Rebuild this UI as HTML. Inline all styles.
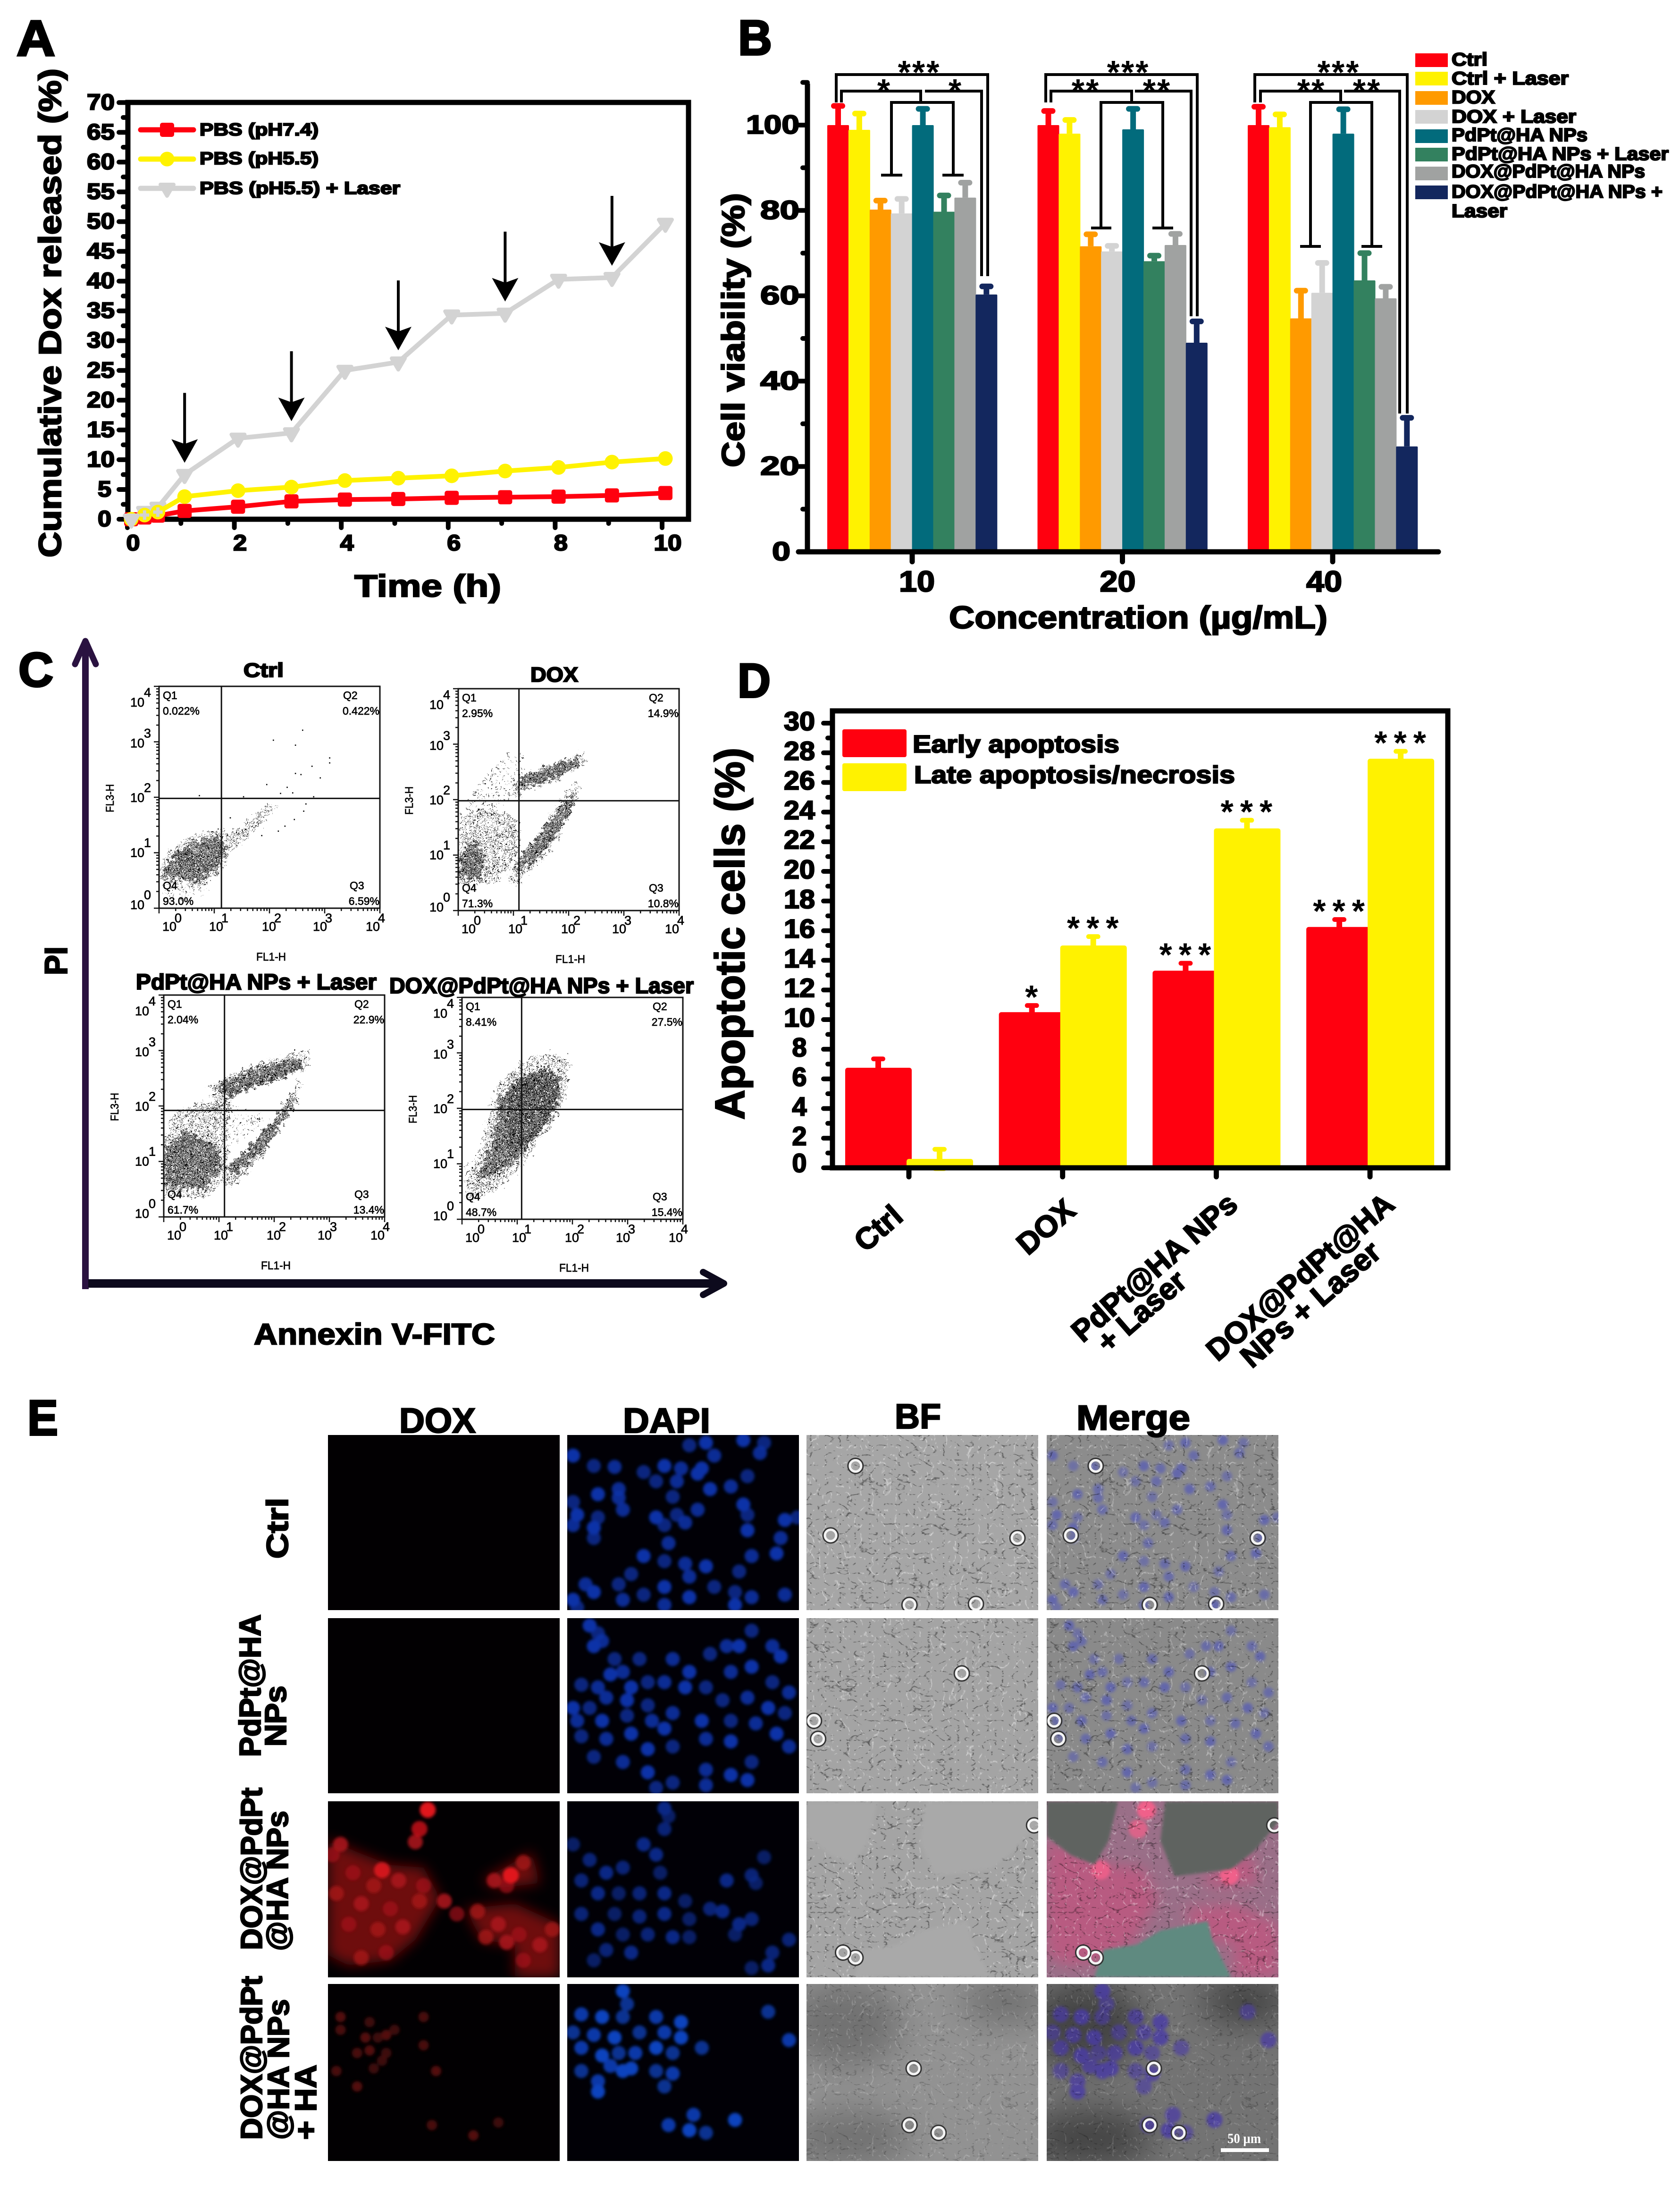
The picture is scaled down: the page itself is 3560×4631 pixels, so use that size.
<!DOCTYPE html>
<html lang="en">
<head>
<meta charset="utf-8">
<title>Dox release, cell viability, apoptosis and fluorescence imaging figure</title>
<style>
html,body{margin:0;padding:0;background:#fff;}
svg{display:block;}
text{font-family:"Liberation Sans",sans-serif;fill:#000;}
.b{font-weight:bold;stroke:#000;stroke-width:2.5px;}
.h{font-weight:bold;stroke:#000;stroke-width:4px;}
.f{font-weight:normal;stroke:#000;stroke-width:.7px;}
</style>
</head>
<body>
<svg id="figure" xmlns="http://www.w3.org/2000/svg" width="3560" height="4631" viewBox="0 0 3560 4631">
<defs>
  <pattern id="eventsDense" width="24" height="24" patternUnits="userSpaceOnUse" patternTransform="scale(.72)">
    <path fill="#000" d="M1 2h3v3h-3zM6 1h3v3h-3zM11 3h3v3h-3zM16 0h3v3h-3zM21 2h3v3h-3zM3 6h3v3h-3zM8 5h3v3h-3zM13 7h3v3h-3zM18 5h3v3h-3zM22 7h2v3h-2zM0 10h3v3h-3zM5 9h3v3h-3zM10 11h3v3h-3zM15 9h3v3h-3zM20 11h3v3h-3zM2 14h3v3h-3zM7 13h3v3h-3zM12 15h3v3h-3zM17 13h3v3h-3zM22 15h2v3h-2zM4 18h3v3h-3zM9 17h3v3h-3zM14 19h3v3h-3zM19 17h3v3h-3zM1 20h3v3h-3zM6 21h3v3h-3zM11 21h3v3h-3zM16 21h3v3h-3zM21 19h3v3h-3z"/>
  </pattern>
  <pattern id="eventsMedium" width="24" height="24" patternUnits="userSpaceOnUse">
    <path fill="#000" d="M1 2h2.5v2.5h-2.5zM11 3h2.5v2.5h-2.5zM21 2h2.5v2.5h-2.5zM8 5h2.5v2.5h-2.5zM18 5h2.5v2.5h-2.5zM0 10h2.5v2.5h-2.5zM10 11h2.5v2.5h-2.5zM20 11h2.5v2.5h-2.5zM7 13h2.5v2.5h-2.5zM17 13h2.5v2.5h-2.5zM4 18h2.5v2.5h-2.5zM14 19h2.5v2.5h-2.5zM1 20h2.5v2.5h-2.5zM11 21h2.5v2.5h-2.5zM21 19h2.5v2.5h-2.5z"/>
  </pattern>
  <pattern id="eventsSparse" width="30" height="30" patternUnits="userSpaceOnUse">
    <path fill="#000" d="M3 4h2.5v2.5h-2.5zM17 2h2.5v2.5h-2.5zM25 11h2.5v2.5h-2.5zM10 13h2.5v2.5h-2.5zM2 22h2.5v2.5h-2.5zM19 24h2.5v2.5h-2.5z"/>
  </pattern>
  <filter id="scatterEvents" x="-10%" y="-10%" width="120%" height="120%">
    <feTurbulence type="fractalNoise" baseFrequency="0.11" numOctaves="3" seed="11" result="n"/>
    <feDisplacementMap in="SourceGraphic" in2="n" scale="30" xChannelSelector="R" yChannelSelector="G"/>
  </filter>
  <filter id="blurSmall" x="-5%" y="-5%" width="110%" height="110%"><feGaussianBlur stdDeviation="3.2"/></filter>
  <filter id="blurLarge" x="-15%" y="-15%" width="130%" height="130%"><feGaussianBlur stdDeviation="14"/></filter>
  <filter id="blurHuge" x="-40%" y="-40%" width="180%" height="180%"><feGaussianBlur stdDeviation="34"/></filter>
  <filter id="darkVeins" x="0" y="0" width="100%" height="100%" color-interpolation-filters="sRGB">
    <feTurbulence type="turbulence" baseFrequency="0.032 0.048" numOctaves="3" seed="7"/>
    <feColorMatrix values="0 0 0 0 0  0 0 0 0 0  0 0 0 0 0  -6 0 0 0 .8"/>
  </filter>
  <filter id="lightVeins" x="0" y="0" width="100%" height="100%" color-interpolation-filters="sRGB">
    <feTurbulence type="turbulence" baseFrequency="0.04 0.03" numOctaves="3" seed="23"/>
    <feColorMatrix values="0 0 0 0 1  0 0 0 0 1  0 0 0 0 1  -6 0 0 0 .8"/>
  </filter>
</defs>

<g id="panelA"></g>
<g id="panelB"></g>
<g id="panelC"></g>
<g id="panelD"></g>
<g id="panelE"></g>

<!-- Panel letters -->
<text class="h" x="35" y="118" font-size="107" textLength="82" lengthAdjust="spacingAndGlyphs">A</text>
<text class="h" x="1564" y="116" font-size="105" textLength="72" lengthAdjust="spacingAndGlyphs">B</text>
<text class="h" x="39" y="1454" font-size="102" textLength="74" lengthAdjust="spacingAndGlyphs">C</text>
<text class="h" x="1563" y="1477" font-size="102" textLength="70" lengthAdjust="spacingAndGlyphs">D</text>
<text class="h" x="58" y="3040" font-size="106" textLength="65" lengthAdjust="spacingAndGlyphs">E</text>

<!-- Panel A text -->
<text class="b" transform="translate(129,1181) rotate(-90)" font-size="67" textLength="1036" lengthAdjust="spacingAndGlyphs">Cumulative Dox released (%)</text>
<text class="b" x="751" y="1264" font-size="66" textLength="311" lengthAdjust="spacingAndGlyphs">Time (h)</text>
<g>
  <text class="b" x="423" y="287" font-size="37" textLength="252" lengthAdjust="spacingAndGlyphs">PBS (pH7.4)</text>
  <text class="b" x="423" y="348" font-size="37" textLength="252" lengthAdjust="spacingAndGlyphs">PBS (pH5.5)</text>
  <text class="b" x="423" y="411" font-size="37" textLength="425" lengthAdjust="spacingAndGlyphs">PBS (pH5.5) + Laser</text>
</g>

<!-- Panel B text -->
<text class="b" transform="translate(1577,990) rotate(-90)" font-size="68" textLength="581" lengthAdjust="spacingAndGlyphs">Cell viability (%)</text>
<text class="b" x="2011" y="1331" font-size="67" textLength="802" lengthAdjust="spacingAndGlyphs">Concentration (µg/mL)</text>
<g>
  <text class="b" x="3076" y="139" font-size="39" textLength="76" lengthAdjust="spacingAndGlyphs">Ctrl</text>
  <text class="b" x="3076" y="179" font-size="39" textLength="248" lengthAdjust="spacingAndGlyphs">Ctrl + Laser</text>
  <text class="b" x="3076" y="219" font-size="39" textLength="92" lengthAdjust="spacingAndGlyphs">DOX</text>
  <text class="b" x="3076" y="260" font-size="39" textLength="264" lengthAdjust="spacingAndGlyphs">DOX + Laser</text>
  <text class="b" x="3076" y="299" font-size="39" textLength="288" lengthAdjust="spacingAndGlyphs">PdPt@HA NPs</text>
  <text class="b" x="3076" y="339" font-size="39" textLength="460" lengthAdjust="spacingAndGlyphs">PdPt@HA NPs + Laser</text>
  <text class="b" x="3076" y="376" font-size="39" textLength="410" lengthAdjust="spacingAndGlyphs">DOX@PdPt@HA NPs</text>
  <text class="b" x="3076" y="419" font-size="39" textLength="447" lengthAdjust="spacingAndGlyphs">DOX@PdPt@HA NPs +</text>
  <text class="b" x="3076" y="460" font-size="39" textLength="118" lengthAdjust="spacingAndGlyphs">Laser</text>
</g>

<!-- Panel B significance brackets -->
<g fill="none" stroke="#000" stroke-width="6">
  <path d="M1772 217V158H2093V585"/>
  <path d="M1783 217V193H1951V217"/>
  <path d="M1960 193H2080V585"/>
  <path d="M1867 371H1912M1889 371V217H2020V371M1997 371H2042"/>
  <path d="M2216 217V158H2537V670"/>
  <path d="M2227 217V193H2398V217"/>
  <path d="M2405 193H2524V670"/>
  <path d="M2312 483H2355M2333 483V217H2464V483M2442 483H2486"/>
  <path d="M2659 217V158H2982V876"/>
  <path d="M2671 217V193H2841V217"/>
  <path d="M2848 193H2966V876"/>
  <path d="M2755 522H2799M2777 522V217H2907V522M2885 522H2929"/>
</g>
<g text-anchor="middle" font-size="70" font-weight="bold" letter-spacing="3">
  <text x="1948" y="177">***</text>
  <text x="1874" y="216">*</text>
  <text x="2025" y="216">*</text>
  <text x="2391" y="177">***</text>
  <text x="2301" y="216">**</text>
  <text x="2452" y="216">**</text>
  <text x="2837" y="177">***</text>
  <text x="2779" y="216">**</text>
  <text x="2897" y="216">**</text>
</g>

<!-- Panel C text and big axes -->
<g>
  <path d="M181 2731V1362" stroke="#2a1240" stroke-width="14" fill="none"/>
  <path d="M159 1407L181 1358L203 1407" stroke="#2a1240" stroke-width="13" fill="none" stroke-linecap="round" stroke-linejoin="round"/>
</g>
<g>
  <path d="M187 2719H1525" stroke="#0d0a1d" stroke-width="18" fill="none"/>
  <path d="M1490 2695L1534 2719L1490 2743" stroke="#0d0a1d" stroke-width="14" fill="none" stroke-linecap="round" stroke-linejoin="round"/>
</g>
<text class="b" transform="translate(142,2066) rotate(-90)" font-size="68" textLength="61" lengthAdjust="spacingAndGlyphs">PI</text>
<text class="b" x="538" y="2848" font-size="63" textLength="511" lengthAdjust="spacingAndGlyphs">Annexin V-FITC</text>
<text class="b" x="516" y="1434" font-size="42" textLength="85" lengthAdjust="spacingAndGlyphs">Ctrl</text>
<text class="b" x="1124" y="1444" font-size="44" textLength="101" lengthAdjust="spacingAndGlyphs">DOX</text>
<text class="b" x="288" y="2096" font-size="46" textLength="510" lengthAdjust="spacingAndGlyphs">PdPt@HA NPs + Laser</text>
<text class="b" x="825" y="2104" font-size="46" textLength="645" lengthAdjust="spacingAndGlyphs">DOX@PdPt@HA NPs + Laser</text>

<!-- Panel D text -->
<text class="b" transform="translate(1577,2372) rotate(-90)" font-size="88" textLength="788" lengthAdjust="spacingAndGlyphs">Apoptotic cells (%)</text>
<g>
  <text class="b" x="1934" y="1594" font-size="52" textLength="438" lengthAdjust="spacingAndGlyphs">Early apoptosis</text>
  <text class="b" x="1937" y="1659" font-size="52" textLength="680" lengthAdjust="spacingAndGlyphs">Late apoptosis/necrosis</text>
</g>
<g font-size="64" text-anchor="middle">
  <text class="b" transform="translate(1861,2602) rotate(-41)" y="22">Ctrl</text>
  <text class="b" transform="translate(2216,2599) rotate(-41)" y="22">DOX</text>
  <text class="b" transform="translate(2446,2685) rotate(-41)" y="22">PdPt@HA NPs</text>
  <text class="b" transform="translate(2419,2778) rotate(-41)" y="22">+ Laser</text>
  <text class="b" transform="translate(2755,2705) rotate(-41)" y="22">DOX@PdPt@HA</text>
  <text class="b" transform="translate(2777,2763) rotate(-41)" y="22">NPs + Laser</text>
</g>

<!-- Panel E text -->
<text class="b" x="846" y="3035" font-size="74" textLength="162" lengthAdjust="spacingAndGlyphs">DOX</text>
<text class="b" x="1320" y="3035" font-size="74" textLength="185" lengthAdjust="spacingAndGlyphs">DAPI</text>
<text class="b" x="1896" y="3026" font-size="74" textLength="98" lengthAdjust="spacingAndGlyphs">BF</text>
<text class="b" x="2281" y="3029" font-size="74" textLength="241" lengthAdjust="spacingAndGlyphs">Merge</text>
<g font-size="64">
  <text class="b" transform="translate(610,3302) rotate(-90)" textLength="129" lengthAdjust="spacingAndGlyphs">Ctrl</text>
  <text class="b" transform="translate(552,3722) rotate(-90)" textLength="302" lengthAdjust="spacingAndGlyphs">PdPt@HA</text>
  <text class="b" transform="translate(606,3700) rotate(-90)" textLength="129" lengthAdjust="spacingAndGlyphs">NPs</text>
  <text class="b" transform="translate(555,4131) rotate(-90)" textLength="344" lengthAdjust="spacingAndGlyphs">DOX@PdPt</text>
  <text class="b" transform="translate(610,4133) rotate(-90)" textLength="297" lengthAdjust="spacingAndGlyphs">@HA NPs</text>
  <text class="b" transform="translate(555,4533) rotate(-90)" textLength="347" lengthAdjust="spacingAndGlyphs">DOX@PdPt</text>
  <text class="b" transform="translate(612,4533) rotate(-90)" textLength="298" lengthAdjust="spacingAndGlyphs">@HA NPs</text>
  <text class="b" transform="translate(670,4533) rotate(-90)" textLength="159" lengthAdjust="spacingAndGlyphs">+ HA</text>
</g>

<script>
/* ---------- Panel A data ---------- */
const timeHours = [0, 0.25, 0.5, 1, 2, 3, 4, 5, 6, 7, 8, 9, 10];
const releasePh74 = [0, 0.3, 0.6, 1.4, 2.1, 3, 3.3, 3.4, 3.6, 3.7, 3.8, 4, 4.4];
const releasePh55 = [0, 0.7, 1.2, 3.8, 4.8, 5.4, 6.5, 6.9, 7.3, 8.1, 8.7, 9.6, 10.2];
const releaseLaser = [0, 1.3, 2, 7.5, 13.6, 14.5, 25, 26.4, 34.3, 34.6, 40.3, 40.6, 49.7];
const laserHours = [1, 3, 5, 7, 9];
const releaseYTicks = [0, 5, 10, 15, 20, 25, 30, 35, 40, 45, 50, 55, 60, 65, 70];
const releaseXTicks = [0, 2, 4, 6, 8, 10];

/* ---------- Panel B data ---------- */
const concentrations = ['10', '20', '40'];
const treatmentColors = ['#ff000f', '#fff200', '#ff9a00', '#d3d3d3', '#026b7c', '#33815f', '#a0a2a1', '#13275e'];
const viability10 = [100, 98.9, 80.2, 79.3, 100, 79.7, 83, 60.3];
const viability20 = [100, 98, 71.6, 70.4, 99, 68.1, 71.9, 49];
const viability40 = [100, 99.5, 54.7, 60.7, 98, 63.6, 59.4, 24.7];
const viabilityErr10 = [4.5, 3.8, 2.1, 3.4, 3.8, 3.8, 3.5, 1.9];
const viabilityErr20 = [3.3, 3.2, 2.8, 1.3, 4.8, 1.3, 2.6, 5];
const viabilityErr40 = [4.3, 3, 6.5, 7, 5.7, 6.4, 2.7, 6.7];
const viabilityTicks = [0, 20, 40, 60, 80, 100];

/* ---------- Panel C data (log10 decades) ---------- */
const flowPercents = [
  ['0.022%', '0.422%', '6.59%', '93.0%'],
  ['2.95%', '14.9%', '10.8%', '71.3%'],
  ['2.04%', '22.9%', '13.4%', '61.7%'],
  ['8.41%', '27.5%', '15.4%', '48.7%']
];
const gateFl1 = [1.13, 1.1, 1.1, 1.08];
const gateFl3 = [1.98, 1.98, 1.92, 1.98];
const ctrlClouds = [
  ['eventsSparse', [[.03,.6],[.7,.6],[.9,.3],[.5,.15],[.1,.25]]],
  ['eventsDense', [[.06,.61],[.27,.99],[.65,1.2],[1.07,1.29],[1.23,1.08],[1.07,.74],[.73,.48],[.31,.55]]],
  ['eventsMedium', [[1.1,1.2],[1.5,1.5],[2,1.9],[2.15,1.85],[1.7,1.35],[1.25,1]]]
];
const ctrlOutliers = [[2.6,3.21],[2.07,3.03],[2.47,2.94],[3.09,2.71],[3.09,2.62],[2.77,2.56],[2.47,2.43],[2.57,2.41],[2.92,2.35],[1.95,2.23],[2.32,2.18],[2.2,2.07],[2.42,2.08],[1.53,2.01],[.73,2.03],[2.8,2.01],[2.66,1.88],[2.62,1.75],[2.45,1.6],[2.28,1.48],[2.16,1.39],[1.86,1.31],[1.57,1.42],[1.29,1.63]];
const doxClouds = [
  ['eventsSparse', [[.26,2.22],[.93,2.81],[1.18,2.81],[1.18,2.05],[.59,1.8],[.09,1.63]]],
  ['eventsMedium', [[.03,1.03],[.03,1.71],[.59,1.88],[1.1,1.63],[1.1,.95],[.59,.44],[.43,.57]]],
  ['eventsDense', [[.03,.57],[.03,1.03],[.34,1.29],[.47,.95],[.43,.57]]],
  ['eventsDense', [[1,.8],[1.4,1.3],[1.9,1.95],[2.1,2.1],[2.05,1.8],[1.6,1.1],[1.15,.7]]],
  ['eventsDense', [[1.1,2.39],[1.77,2.64],[2.18,2.77],[2.18,2.6],[1.77,2.39],[1.13,2.18]]]
];
const pdptClouds = [
  ['eventsSparse', [[.65,2.07],[1,2.5],[1.3,2],[1.9,1.75],[1.2,1.3],[.9,1.6]]],
  ['eventsMedium', [[.02,1.23],[.14,1.82],[.65,2.07],[1.23,2.07],[1.15,1.4],[.98,1.23],[.39,1.56]]],
  ['eventsMedium', [[.3,.6],[.7,.4],[1.1,.6],[1.2,1.3],[.5,1.3]]],
  ['eventsDense', [[.02,.55],[.02,1.23],[.39,1.56],[.98,1.23],[1.06,.89],[.73,.51]]],
  ['eventsDense', [[1.1,.9],[1.5,1.2],[2,1.75],[2.35,2.2],[2.3,1.9],[1.8,1.2],[1.3,.75]]],
  ['eventsDense', [[.98,2.41],[1.74,2.71],[2.49,2.88],[2.49,2.66],[2.07,2.49],[1.4,2.28],[1.15,2.07]]]
];
const doxPdptClouds = [
  ['eventsSparse', [[.03,.3],[.4,.6],[.3,1],[.03,1]]],
  ['eventsMedium', [[.03,.58],[.36,1.35],[.53,2.09],[.95,2.6],[1.45,2.75],[1.87,2.75],[1.83,2.09],[1.53,1.6],[1.11,1.09],[.7,.75],[.28,.54]]],
  ['eventsDense', [[.25,.7],[.55,1.4],[.7,2.2],[1.05,2.55],[1.5,2.7],[1.8,2.6],[1.75,2.1],[1.45,1.65],[1.1,1.2],[.7,.85]]],
  ['eventsDense', [[.78,1.77],[.95,2.45],[1.53,2.75],[1.79,2.45],[1.62,1.85],[1.11,1.26],[.86,1.18]]]
];

/* ---------- Panel D data ---------- */
const apoptosisGroups = ['Ctrl', 'DOX', 'PdPt@HA NPs + Laser', 'DOX@PdPt@HA NPs + Laser'];
const earlyApoptosis = [6.75, 10.5, 13.3, 16.25];
const lateApoptosis = [0.6, 15, 22.9, 27.6];
const earlyErr = [0.6, 0.45, 0.5, 0.5];
const lateErr = [0.65, 0.6, 0.55, 0.5];
const earlySignificance = ['', '*', '***', '***'];
const lateSignificance = ['', '***', '***', '***'];
const apoptosisTicks = [0, 2, 4, 6, 8, 10, 12, 14, 16, 18, 20, 22, 24, 26, 28, 30];

/* ---------- Panel E image detail (traced cell centres) ---------- */
const dapiCellsRow1 = [[850,125],[830,130],[860,150],[895,120],[920,125],[915,145],[690,150],[715,170],[740,172],[800,170],[775,182],[820,175],[845,175],[790,200],[815,200],[840,185],[900,190],[880,210],[855,215],[810,230],[745,215],[720,225],[690,240],[745,232],[695,265],[720,270],[750,255],[790,270],[815,265],[840,255],[895,245],[900,265],[690,285],[715,290],[800,285],[825,280],[945,275],[960,270],[940,310],[900,295],[715,310],[805,320],[775,345],[800,355],[825,360],[850,365],[890,375],[905,345],[935,340],[760,380],[830,385],[800,405],[860,405],[705,400],[715,415],[745,400],[750,430],[690,430],[775,420],[800,440],[830,425],[885,415],[905,425],[885,440],[695,445],[945,420]];
const dapiCellsRow2 = [[710,480],[720,495],[725,510],[715,520],[740,545],[750,570],[735,575],[770,545],[810,545],[830,570],[855,535],[875,520],[890,520],[905,490],[930,520],[940,540],[700,595],[720,600],[760,600],[780,590],[800,590],[825,600],[850,600],[880,570],[905,560],[930,590],[950,610],[690,640],[710,640],[730,620],[755,625],[780,635],[810,650],[845,665],[870,625],[900,620],[925,640],[945,650],[695,665],[725,665],[755,655],[785,665],[800,680],[880,665],[910,670],[935,690],[700,695],[730,700],[760,690],[715,735],[750,745],[780,720],[810,715],[850,700],[880,705],[905,745],[950,715],[780,765],[810,785],[850,760],[880,770],[790,795],[850,790],[900,780]];
const dapiCellsRow3 = [[800,835],[805,850],[800,875],[775,905],[690,905],[710,935],[790,925],[795,960],[750,950],[730,960],[920,930],[905,965],[875,975],[910,980],[700,975],[720,1000],[745,1000],[770,1000],[800,1000],[825,1015],[855,1030],[870,1035],[885,1080],[905,1050],[890,1060],[740,1040],[770,1045],[800,1040],[830,1050],[700,1040],[720,1070],[750,1080],[780,1080],[810,1085],[830,1085],[730,1110],[760,1115],[715,1130],[930,1115],[925,1140],[905,1145],[950,1090]];
const dapiCellsRow4 = [[750,1190],[755,1215],[700,1235],[725,1240],[750,1240],[790,1240],[820,1250],[690,1270],[715,1275],[740,1280],[770,1270],[800,1270],[820,1280],[845,1300],[700,1300],[725,1315],[745,1310],[765,1310],[790,1300],[810,1310],[735,1335],[760,1340],[700,1345],[720,1365],[750,1345],[790,1345],[810,1350],[720,1385],[800,1375],[835,1430],[830,1460],[850,1465],[805,1450],[885,1440],[925,1230],[950,1285]];
const doxBrightRow3 = [[515,838],[505,875],[460,955],[615,965]];
const doxCellsRow3 = [[410,905],[425,960],[450,985],[480,975],[510,985],[405,1000],[435,1020],[470,1030],[505,1015],[535,1015],[420,1060],[455,1070],[485,1065],[550,1040],[575,1035],[600,1060],[625,1080],[585,1085],[610,1095],[465,1115],[435,1125],[650,1100],[630,1130],[665,1070],[595,975],[610,985],[630,940],[500,900],[400,925]];
const doxRegionsRow3 = [
  [[395,895],[430,920],[470,945],[510,950],[530,1010],[500,1090],[470,1130],[420,1140],[395,1120]],
  [[580,975],[640,920],[650,980],[600,990]],
  [[560,1030],[620,1020],[674,1060],[674,1163],[620,1163],[620,1100],[580,1090]]
];
const doxCellsRow4 = [[410,1240],[445,1250],[410,1265],[465,1275],[475,1265],[510,1240],[440,1280],[455,1280],[430,1310],[445,1305],[465,1310],[510,1295],[525,1345],[460,1325],[405,1345],[430,1375],[600,1445],[520,1450],[570,1470],[450,1340]];
const bfRingsRow1 = [[1030,170],[1000,305],[1225,310],[1095,440],[1175,438]];
const bfRingsRow2 = [[1158,573],[980,665],[985,700]];
const bfRingsRow3 = [[1030,1125],[1015,1115],[1245,868]];
const bfRingsRow4 = [[1100,1340],[1130,1465],[1095,1450]];

/* ---------- Helpers ---------- */
const NS = 'http://www.w3.org/2000/svg';
function make(tag, parent, attrs) {
  const node = document.createElementNS(NS, tag);
  for (const key in attrs) node.setAttribute(key, attrs[key]);
  parent.appendChild(node);
  return node;
}
function label(parent, str, x, y, size, cls, anchor, len) {
  const node = make('text', parent, {x: x, y: y, 'font-size': size, 'text-anchor': anchor || 'start'});
  if (cls) node.setAttribute('class', cls);
  if (len) { node.setAttribute('textLength', len); node.setAttribute('lengthAdjust', 'spacingAndGlyphs'); }
  node.textContent = str;
  
  return node;
}
function tickLine(parent, x1, y1, x2, y2, w, name) {
  const line = make('line', parent, {x1: x1, y1: y1, x2: x2, y2: y2, stroke: '#000', 'stroke-width': w, 'stroke-linecap': 'round'});
  
  
  return line;
}

/* ---------- Panel A ---------- */
(function () {
  const g = document.getElementById('panelA');
  const xData = t => 278 + 113.2 * t;
  const xTick = t => 270 + 113.3 * t;
  const y = v => 1100 - 12.61 * v;

  for (let v = 2.5; v < 70; v += 5) tickLine(g, 271, y(v), 261, y(v), 10, 'y-minor-tick');
  releaseYTicks.forEach(v => {
    tickLine(g, 271, y(v), 252, y(v), 10, 'y-major-tick');
    const tl = label(g, String(v), v < 10 ? 236 : 243, y(v) + 15, 47, 'b', 'end', v < 10 ? 29 : 59);
    
  });
  for (let t = 1; t < 10; t += 2) tickLine(g, xTick(t), 1100, xTick(t), 1109, 10, 'x-minor-tick');
  releaseXTicks.forEach(t => {
    tickLine(g, xTick(t), 1100, xTick(t), 1118, 10, 'x-major-tick');
    const tl = label(g, String(t), xTick(t) + 12, 1166, 47, 'b', 'middle', t < 10 ? 29 : 59);
    
  });
  const frame = make('rect', g, {x: 271, y: 217, width: 1188, height: 883, fill: 'none', stroke: '#000', 'stroke-width': 11});
  
  

  function drawLine(values, color) {
    const line = make('polyline', g, {
      points: values.map((v, i) => xData(timeHours[i]) + ',' + y(v)).join(' '),
      fill: 'none', stroke: color, 'stroke-width': 10, 'stroke-linejoin': 'round', 'stroke-linecap': 'round'
    });
    
    
  }
  function square(x, yy, color) {
    const m = make('rect', g, {x: x - 15, y: yy - 15, width: 30, height: 30, rx: 5, fill: color});
    
    
  }
  function dot(x, yy, color) {
    const m = make('circle', g, {cx: x, cy: yy, r: 15.5, fill: color});
    
    
  }
  function tri(x, yy, color) {
    const m = make('path', g, {d: `M${x - 14} ${yy - 8}H${x + 14}L${x} ${yy + 16}Z`, fill: color, stroke: color, 'stroke-width': 8, 'stroke-linejoin': 'round'});
    
    
  }
  drawLine(releasePh74, '#ff000f');
  releasePh74.forEach((v, i) => square(xData(timeHours[i]), y(v), '#ff000f'));
  drawLine(releaseLaser, '#d3d3d3');
  releaseLaser.forEach((v, i) => { if (i > 2) tri(xData(timeHours[i]), y(v), '#d3d3d3'); });
  tri(xData(timeHours[1]), y(releaseLaser[1]), '#d3d3d3');
  tri(xData(timeHours[2]), y(releaseLaser[2]), '#d3d3d3');
  drawLine(releasePh55, '#fff200');
  releasePh55.forEach((v, i) => dot(xData(timeHours[i]), y(v), '#fff200'));
  [1, 2].forEach(i => {
    const cross = make('path', g, {d: `M${xData(timeHours[i]) - 10} ${y(releasePh55[i])}h20M${xData(timeHours[i])} ${y(releasePh55[i]) - 10}v20`, stroke: '#d3d3d3', 'stroke-width': 7, fill: 'none'});
    
    
  });
  tri(xData(0), y(0), '#d3d3d3');

  laserHours.forEach(t => {
    const v = releaseLaser[timeHours.indexOf(t)];
    const tip = y(v) - 25;
    const x = xData(t);
    const arrow = make('path', g, {d: `M${x - 3} ${tip - 148}h6V${tip - 41}L${x + 28} ${tip - 50}L${x} ${tip}L${x - 28} ${tip - 50}L${x - 3} ${tip - 41}Z`, fill: '#000'});
    
    
  });

  const leg = make('line', g, {x1: 298, y1: 275, x2: 410, y2: 275, stroke: '#ff000f', 'stroke-width': 11, 'stroke-linecap': 'round'});
  
  
  square(354, 275, '#ff000f');
  const leg2 = make('line', g, {x1: 298, y1: 337, x2: 410, y2: 337, stroke: '#fff200', 'stroke-width': 11, 'stroke-linecap': 'round'});
  
  
  dot(354, 337, '#fff200');
  const leg3 = make('line', g, {x1: 298, y1: 399, x2: 410, y2: 399, stroke: '#d3d3d3', 'stroke-width': 11, 'stroke-linecap': 'round'});
  
  
  tri(354, 399, '#d3d3d3');
})();

/* ---------- Panel B ---------- */
(function () {
  const g = document.getElementById('panelB');
  const y = v => 1169 - 9.04 * v;
  const barX = (group, i) => 1753 + 445.5 * group + 44.9 * i;
  const valueSets = [viability10, viability20, viability40];
  const errSets = [viabilityErr10, viabilityErr20, viabilityErr40];
  const labelShift = [10, -10, -18];

  concentrations.forEach((c, group) => {
    valueSets[group].forEach((v, i) => {
      const x = barX(group, i);
      const color = treatmentColors[i];
      const stem = make('path', g, {
        d: `M${x + 23} ${y(v)}V${y(v + errSets[group][i])}`,
        stroke: color, 'stroke-width': 12, fill: 'none'
      });
      
      
      const cap = make('rect', g, {x: x + 8, y: y(v + errSets[group][i]) - 6, width: 30, height: 12, rx: 6, fill: color});
      
      
      const bar = make('rect', g, {x: x, y: y(v), width: 46, height: y(0) - y(v), rx: 2, fill: color});
      
      
    });
    const tickX = barX(group, 0) + 180;
    tickLine(g, tickX, 1169, tickX, 1190, 11, 'x-tick');
    const tl = label(g, c, tickX + labelShift[group], 1253, 62, 'b', 'middle', 76);
    
  });

  const yAxis = make('line', g, {x1: 1711, y1: 177, x2: 1711, y2: 1169, stroke: '#000', 'stroke-width': 11});
  
  
  const xAxis = make('line', g, {x1: 1692, y1: 1169, x2: 3048, y2: 1169, stroke: '#000', 'stroke-width': 11, 'stroke-linecap': 'round'});
  
  
  for (let v = 10; v <= 110; v += 20) tickLine(g, 1711, y(v), 1701, y(v), 10, 'y-minor-tick');
  viabilityTicks.forEach(v => {
    if (v > 0) tickLine(g, 1711, y(v), 1693, y(v), 10, 'y-major-tick');
    const size = v === 100 ? 113 : (v === 0 ? 39 : 83);
    const tl = label(g, String(v), v === 0 ? 1675 : 1694, y(v) + 18, 56, 'b', 'end', size);
    
  });

  treatmentColors.forEach((color, i) => {
    const swatch = make('rect', g, {x: 2999, y: [113, 152, 193, 233, 274, 313, 353, 393][i], width: 69, height: 29, fill: color});
    
    
  });
})();

/* ---------- Panel C ---------- */
(function () {
  const g = document.getElementById('panelC');
  const panels = [
    {x: 337, y: 1454, clouds: ctrlClouds, outliers: ctrlOutliers, q2: 390},
    {x: 971, y: 1459, clouds: doxClouds, outliers: [], q2: 404},
    {x: 347, y: 2108, clouds: pdptClouds, outliers: [], q2: 404},
    {x: 979, y: 2113, clouds: doxPdptClouds, outliers: [], q2: 404}
  ];
  const W = 468, H = 470;
  const xOffsets = [7, -11, -16, -25, -30];
  const yOffsets = [2, 9, 10, 12, 43];
  const minorLogs = [.301, .477, .602, .699, .778, .845, .903, .954];

  panels.forEach((p, idx) => {
    const box = make('g', g, {});
    
    
    const x = d => p.x + d * W / 4;
    const y = d => p.y + H - d * H / 4;

    const cid = 'flowClip' + idx;
    const cp = make('clipPath', document.querySelector('defs'), {id: cid});
    make('rect', cp, {x: p.x, y: p.y, width: W, height: H});
    const clipGroup = make('g', box, {'clip-path': 'url(#' + cid + ')'});
    const cloudGroup = make('g', clipGroup, {filter: 'url(#scatterEvents)'});
    
    
    p.clouds.forEach(c => {
      if (c[0] === 'eventsDense') {
        const cx = c[1].reduce((s, q) => s + q[0], 0) / c[1].length;
        const cy = c[1].reduce((s, q) => s + q[1], 0) / c[1].length;
        const halo = make('polygon', cloudGroup, {points: c[1].map(q => x(cx + (q[0] - cx) * 1.2) + ',' + y(cy + (q[1] - cy) * 1.35)).join(' '), fill: 'url(#eventsMedium)'});
        
        
      }
      const cloud = make('polygon', cloudGroup, {points: c[1].map(q => x(q[0]) + ',' + y(q[1])).join(' '), fill: 'url(#' + c[0] + ')'});
      
      
    });
    p.outliers.forEach(q => {
      const pt = make('rect', box, {x: x(q[0]) - 1.2, y: y(q[1]) - 1.2, width: 2.6, height: 2.6, fill: '#000'});
      
      
    });

    const frame = make('rect', box, {x: p.x, y: p.y, width: W, height: H, fill: 'none', stroke: '#111', 'stroke-width': 3});
    
    
    const gateV = make('line', box, {x1: x(gateFl1[idx]), y1: p.y, x2: x(gateFl1[idx]), y2: p.y + H, stroke: '#111', 'stroke-width': 3});
    
    
    const gateH = make('line', box, {x1: p.x, y1: y(gateFl3[idx]), x2: p.x + W, y2: y(gateFl3[idx]), stroke: '#111', 'stroke-width': 3});
    
    

    let tickPath = '';
    for (let k = 0; k <= 4; k++) {
      tickPath += `M${x(k)} ${p.y + H}v11M${p.x} ${y(k)}h-11`;
      if (k < 4) minorLogs.forEach(m => { tickPath += `M${x(k + m)} ${p.y + H}v6M${p.x} ${y(k + m)}h-6`; });
      const bx = x(k) + xOffsets[k];
      const a = label(box, '10', bx, p.y + H + 48, 27, 'f');
      
      const b = label(box, String(k), bx + 26, p.y + H + 30, 27, 'f');
      
      const by = y(k) + yOffsets[k];
      const c = label(box, '10', p.x - 61, by, 27, 'f');
      
      const e = label(box, String(k), p.x - 32, by - 21, 27, 'f');
      
    }
    const ticks = make('path', box, {d: tickPath, stroke: '#111', 'stroke-width': 2.5, fill: 'none'});
    
    

    const q = flowPercents[idx];
    const bottom = p.y + H;
    [['Q1', p.x + 8, p.y + 27], ['Q2', p.x + p.q2, p.y + 27], ['Q3', p.x + 404, bottom - 40], ['Q4', p.x + 8, bottom - 40]].forEach(t => {
      const ql = label(box, t[0], t[1], t[2], 23, 'f');
      
    });
    const p1 = label(box, q[0], p.x + 8, p.y + 60, 23, 'f');
    
    const p2 = label(box, q[1], p.x + 467, p.y + 60, 23, 'f', 'end');
    
    const p3 = label(box, q[2], p.x + 467, bottom - 7, 23, 'f', 'end');
    
    const p4 = label(box, q[3], p.x + 8, bottom - 7, 23, 'f');
    

    const xt = label(box, 'FL1-H', p.x + 206, bottom + 111, 24, 'f', 'start', 63);
    
    const yt = label(box, 'FL3-H', 0, 0, 24, 'f', 'start', 60);
    yt.setAttribute('transform', `translate(${p.x - 96},${p.y + 267}) rotate(-90)`);
    
  });
})();

/* ---------- Panel D ---------- */
(function () {
  const g = document.getElementById('panelD');
  const y = v => 2474 - 31.4 * v;
  const xTick = i => 1926 + 325.7 * i;

  function series(values, errs, color, dx, stars) {
    values.forEach((v, i) => {
      const x = xTick(i) + dx;
      const center = x + 70;
      const stem = make('path', g, {d: `M${center} ${y(v - errs[i])}V${y(v + errs[i])}`, stroke: color, 'stroke-width': 12, fill: 'none'});
      
      
      const capTop = make('rect', g, {x: center - 15, y: y(v + errs[i]) - 5, width: 30, height: 10, rx: 5, fill: color});
      
      
      const capLow = make('rect', g, {x: center - 15, y: y(v - errs[i]) - 5, width: 30, height: 10, rx: 5, fill: color});
      
      
      const bar = make('rect', g, {x: x, y: y(v), width: 141, height: y(0) - y(v), rx: 5, fill: color});
      
      
      if (stars[i]) {
        const st = label(g, stars[i], center + 6, y(v + errs[i]) - 32 + 38, 70, null, 'middle');
        st.setAttribute('font-weight', 'bold');
        st.setAttribute('letter-spacing', '14');
        
      }
    });
  }
  series(earlyApoptosis, earlyErr, '#ff000f', -135, earlySignificance);
  series(lateApoptosis, lateErr, '#fff200', -5, lateSignificance);

  const frame = make('rect', g, {x: 1764, y: 1506, width: 1304, height: 968, fill: 'none', stroke: '#000', 'stroke-width': 11});
  
  
  for (let v = 1; v < 30; v += 2) tickLine(g, 1764, y(v), 1754, y(v), 10, 'y-minor-tick');
  apoptosisTicks.forEach(v => {
    tickLine(g, 1764, y(v), 1745, y(v), 10, 'y-major-tick');
    const tl = label(g, String(v), 1694, y(v) + (v === 0 ? 9 : 15), 56, 'b', 'middle', v < 10 ? 31 : 66);
    
  });
  apoptosisGroups.forEach((name, i) => {
    tickLine(g, xTick(i), 2474, xTick(i), 2493, 11, 'x-tick-' + i);
  });

  const red = make('rect', g, {x: 1785, y: 1545, width: 136, height: 59, rx: 4, fill: '#ff000f'});
  
  
  const yellow = make('rect', g, {x: 1785, y: 1617, width: 136, height: 59, rx: 4, fill: '#fff200'});
  
  
})();

/* ---------- Panel E ---------- */
(function () {
  const g = document.getElementById('panelE');
  const defs = document.querySelector('defs');
  const zx = X => X * 1.76;
  const zy = Y => 2920 + Y * 1.091;
  const cols = [695, 1202, 1709, 2218];
  const colW = 491;
  const rows = [[3040, 3411], [3428, 3799], [3816, 4189], [4203, 4578]];
  const dapiSets = [dapiCellsRow1, dapiCellsRow2, dapiCellsRow3, dapiCellsRow4];
  const ringSets = [bfRingsRow1, bfRingsRow2, bfRingsRow3, bfRingsRow4];
  const bfBase = ['#a6a6a6', '#a4a4a4', '#a4a4a4', '#929292'];
  const mergeBase = ['#8c8c8c', '#8a8a8a', '#9a6f88', '#737373'];
  const mergeDX = cols[3] - cols[2];

  function panel(c, r, name) {
    const id = 'clip' + c + '-' + r;
    const cp = make('clipPath', defs, {id: id});
    make('rect', cp, {x: cols[c], y: rows[r][0], width: colW, height: rows[r][1] - rows[r][0]});
    const p = make('g', g, {'clip-path': 'url(#' + id + ')'});
    
    
    return p;
  }
  function fillRect(p, c, r, color) {
    const bg = make('rect', p, {x: cols[c], y: rows[r][0], width: colW, height: rows[r][1] - rows[r][0], fill: color});
    
    
  }
  function cells(parent, pts, dx, color, radius, opacity, name) {
    const grp = make('g', parent, {filter: 'url(#blurSmall)', fill: color, opacity: opacity});
    
    
    pts.forEach((q, i) => {
      const cell = make('circle', grp, {cx: zx(q[0]) + dx, cy: zy(q[1]), r: radius, opacity: [1, .75, .88][i % 3]});
      
      
    });
  }
  function regions(parent, dx, color, opacity) {
    const grp = make('g', parent, {filter: 'url(#blurLarge)', fill: color, opacity: opacity});
    
    
    doxRegionsRow3.forEach(poly => {
      const shape = make('polygon', grp, {points: poly.map(q => (zx(q[0]) + dx) + ',' + zy(q[1])).join(' ')});
      
      
    });
  }
  function texture(parent, c, r, darkOp, lightOp) {
    const dx = cols[c] - cols[2];
    const t = make('g', parent, {transform: 'translate(' + dx + ',0)'});
    
    
    const d = make('rect', t, {x: cols[2], y: rows[r][0], width: colW, height: rows[r][1] - rows[r][0], filter: 'url(#darkVeins)', opacity: darkOp});
    
    
    const l = make('rect', t, {x: cols[2], y: rows[r][0], width: colW, height: rows[r][1] - rows[r][0], filter: 'url(#lightVeins)', opacity: lightOp});
    
    
  }
  function rings(parent, pts, dx) {
    pts.forEach(q => {
      const outer = make('circle', parent, {cx: zx(q[0]) + dx, cy: zy(q[1]), r: 16, fill: 'none', stroke: '#333', 'stroke-width': 3});
      
      
      const inner = make('circle', parent, {cx: zx(q[0]) + dx, cy: zy(q[1]), r: 12, fill: 'none', stroke: '#f4f4f4', 'stroke-width': 5});
      
      
    });
  }
  function smoothAreas(parent, dx, topColor, lowColor) {
    const areas = [
      [[1709,3816],[1860,3816],[1840,3900],[1810,3950],[1760,3930],[1709,3890]],
      [[1960,3816],[2200,3816],[2200,3860],[2150,3920],[2100,3960],[1980,3975],[1950,3900]],
      [[1950,4090],[2050,4070],[2060,4110],[2090,4170],[2100,4189],[1810,4189],[1830,4130],[1900,4120]]
    ];
    const group = make('g', parent, {filter: 'url(#blurSmall)'});
    
    
    areas.forEach((a, i) => {
      const shape = make('polygon', group, {points: a.map(q => (q[0] + dx) + ',' + q[1]).join(' '), fill: i === 2 ? lowColor : topColor});
      
      
    });
  }
  function shade(parent, dx, opacity) {
    const grp = make('g', parent, {filter: 'url(#blurHuge)', fill: '#000', opacity: opacity});
    
    
    const a = make('ellipse', grp, {cx: 1790 + dx, cy: 4290, rx: 120, ry: 90});
    
    
    const b = make('ellipse', grp, {cx: 1800 + dx, cy: 4530, rx: 130, ry: 60});
    
    
    const c2 = make('ellipse', grp, {cx: 2130 + dx, cy: 4240, rx: 90, ry: 50});
    
    
  }

  rows.forEach((row, r) => {
    /* DOX channel */
    const dox = panel(0, r, 'dox-channel-image');
    fillRect(dox, 0, r, '#020002');
    if (r === 2) {
      regions(dox, 0, '#6e0b11', 1);
      cells(dox, doxCellsRow3, 0, '#a8141a', 16, .9, 'dox-cells');
      cells(dox, doxBrightRow3, 0, '#e0141e', 17, 1, 'dox-bright-cells');
    }
    if (r === 3) cells(dox, doxCellsRow4, 0, '#520a10', 11, 1, 'dox-cells');

    /* DAPI channel */
    const dapi = panel(1, r, 'dapi-channel-image');
    fillRect(dapi, 1, r, '#010006');
    cells(dapi, dapiSets[r], cols[1] - zx(683), r === 3 ? '#0a46c8' : '#0a36b0', 15, r === 2 ? .75 : .95, 'dapi-nuclei');

    /* Bright field */
    const bf = panel(2, r, 'bright-field-image');
    fillRect(bf, 2, r, bfBase[r]);
    if (r === 3) shade(bf, 0, .22);
    texture(bf, 2, r, r === 3 ? .35 : .7, r === 3 ? .35 : .7);
    if (r === 2) smoothAreas(bf, 0, '#a9a9a9', '#a9a9a9');
    rings(bf, ringSets[r], cols[2] - zx(971));

    /* Merge */
    const mg = panel(3, r, 'merge-image');
    fillRect(mg, 3, r, mergeBase[r]);
    if (r === 3) shade(mg, mergeDX, .4);
    if (r === 2) {
      regions(mg, cols[3] - cols[0], '#c2557f', .75);
      cells(mg, doxBrightRow3, cols[3] - cols[0], '#f0608a', 20, 1, 'merge-bright-cells');
    } else {
      cells(mg, dapiSets[r], cols[3] - zx(683), r === 3 ? '#4a3aa8' : '#4a50c0', r === 3 ? 17 : 11, r === 3 ? .8 : .6, 'merge-nuclei');
    }
    texture(mg, 3, r, r === 3 ? .4 : .65, r === 3 ? .3 : .6);
    if (r === 2) smoothAreas(mg, mergeDX, '#5f6461', '#5f8a80');
    rings(mg, ringSets[r], cols[3] - zx(971));
  });

  const bar = make('rect', g, {x: 2587, y: 4551, width: 102, height: 8, fill: '#fff'});
  
  
  const barText = label(g, '50 µm', 2601, 4540, 30, null, 'start', 71);
  barText.setAttribute('style', 'font-family:"Liberation Serif",serif;fill:#fff;font-weight:bold');
  
})();
</script>
</svg>
</body>
</html>
